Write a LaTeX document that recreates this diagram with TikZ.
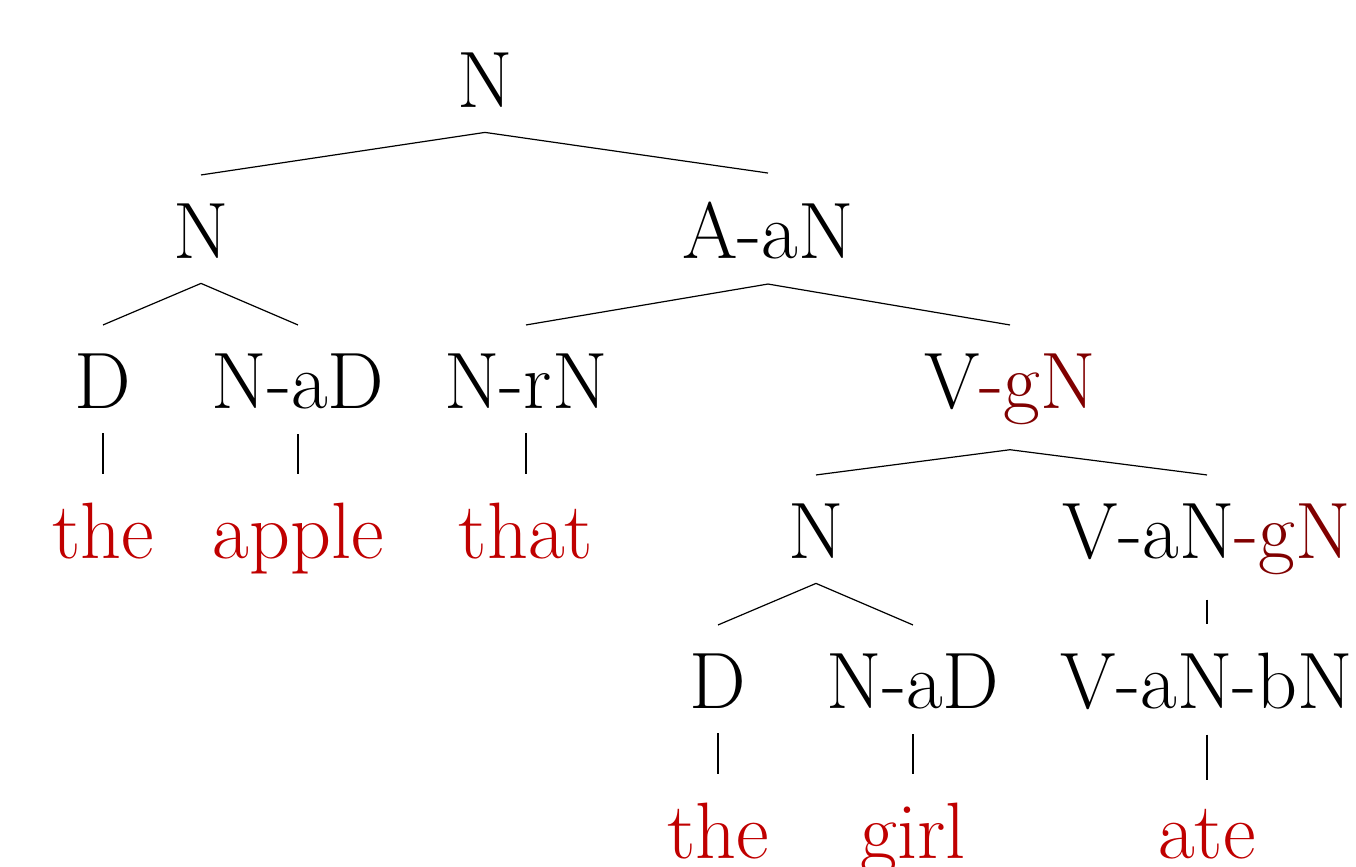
\documentclass[tikz,border=0pt]{standalone}
\definecolor{wordred}{RGB}{192,0,0}
\definecolor{gapred}{RGB}{128,0,0}
\begin{document}
\begin{tikzpicture}[x=0.5pt,y=-0.5pt,
  lab/.style={anchor=base,inner sep=0pt,font=\fontsize{40}{48}\selectfont},
  word/.style={lab,text=wordred},
  br/.style={line width=0.6pt,black}]
\useasboundingbox (0,0) rectangle (1356,867);
% nodes
\node[lab] (n0) at (485,107) {N};
\node[lab] (n1) at (201,258) {N};
\node[lab] (a1) at (768,258) {A-aN};
\node[lab] (d1) at (103,408) {D};
\node[lab] (nad1) at (298,408) {N-aD};
\node[lab] (nrn) at (526,408) {N-rN};
\node[lab] (vgn) at (1010,408) {V\textcolor{gapred}{-gN}};
\node[word] (the1) at (103,558) {the};
\node[word] (apple) at (298,558) {apple};
\node[word] (that) at (526,558) {that};
\node[lab] (n2) at (816,558) {N};
\node[lab] (vangn) at (1207,558) {V-aN\textcolor{gapred}{-gN}};
\node[lab] (d2) at (718,708) {D};
\node[lab] (nad2) at (913,708) {N-aD};
\node[lab] (vanbn) at (1207,708) {V-aN-bN};
\node[word] (the2) at (718,858) {the};
\node[word] (girl) at (913,858) {girl};
\node[word] (ate) at (1207,858) {ate};
% edges
\foreach \p/\c in {n0/n1,n0/a1,n1/d1,n1/nad1,a1/nrn,a1/vgn,d1/the1,nad1/apple,nrn/that,
  vgn/n2,vgn/vangn,n2/d2,n2/nad2,vangn/vanbn,d2/the2,nad2/girl,vanbn/ate}
  \draw[br] ([yshift=-12.5pt]\p.south) -- ([yshift=14pt]\c.north);
\end{tikzpicture}
\end{document}
